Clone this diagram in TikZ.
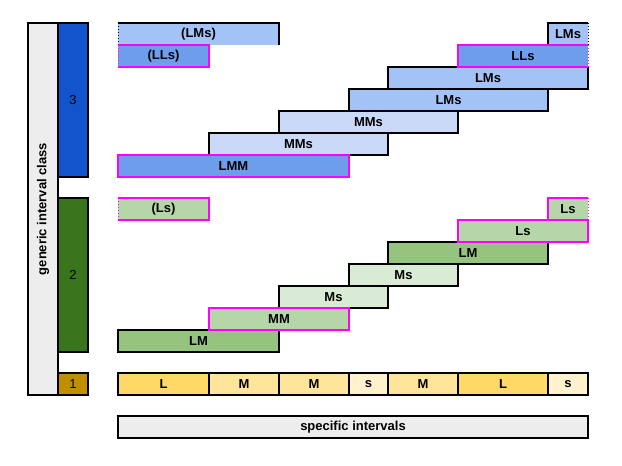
\documentclass[tikz,border=0pt]{standalone}
\usepackage{fontspec}
\setmainfont{Liberation Sans}
\usepackage{xcolor}
\usetikzlibrary{positioning}
\definecolor{axisgrey}{rgb}{0.93,0.93,0.93}
\definecolor{classblue}{rgb}{0.07,0.33,0.80}
\definecolor{classgreen}{rgb}{0.22,0.46,0.11}
\definecolor{classgold}{rgb}{0.75,0.56,0.00}
\definecolor{bluemid}{rgb}{0.64,0.76,0.96}
\definecolor{bluedeep}{rgb}{0.43,0.62,0.92}
\definecolor{bluepale}{rgb}{0.79,0.85,0.97}
\definecolor{greendeep}{rgb}{0.58,0.77,0.49}
\definecolor{greenmid}{rgb}{0.71,0.84,0.66}
\definecolor{greenpale}{rgb}{0.85,0.92,0.83}
\definecolor{yellowdeep}{rgb}{1,0.85,0.40}
\definecolor{yellowmid}{rgb}{1,0.90,0.60}
\definecolor{yellowpale}{rgb}{1,0.95,0.80}
\definecolor{wrappink}{rgb}{1,0,1}

\begin{document}
\begin{tikzpicture}[x=1pt, y=-1pt,
        ivl/.style={rectangle, draw=black, line width=2.2pt, inner sep=0pt, outer sep=0pt, anchor=north west, minimum height=22pt, font=\bfseries\fontsize{13}{15}\selectfont},
        pinkivl/.style={ivl, draw=wrappink},
        openivl/.style={ivl, draw=none},
        classbar/.style={rectangle, draw=black, line width=2.2pt, inner sep=0pt, outer sep=0pt, anchor=north west, minimum width=30pt, font=\fontsize{13}{15}\selectfont},
        edge/.style={draw=black, line width=2.2pt},
        pinkedge/.style={draw=wrappink, line width=2.2pt},
        wrapedge/.style={dotted, line width=1pt}]
    \useasboundingbox (0,0) rectangle (622,466);

    \node [rotate=90, draw=black, fill=axisgrey, line width=2.2pt, inner sep=0pt, minimum width=372pt, minimum height=30pt, font=\bfseries\fontsize{13}{15}\selectfont] (axis) at (43,209) {generic interval class};
    \node [classbar, fill=classblue, minimum height=154pt] (cls3) at (58,23) {3};
    \node [classbar, fill=classgreen, minimum height=154pt] (cls2) at (58,198) {2};
    \node [classbar, fill=classgold, minimum height=22pt] (cls1) at (58,373) {1};

    \node [openivl, fill=bluemid, minimum width=161pt] (lmsw) at (118,23) {(LMs)};
    \node [openivl, fill=bluemid, minimum width=40pt] (lmse) at (548,23) {LMs};
    \draw [edge] (lmsw.south east) -- (lmsw.north east) -- (lmsw.north west);
    \draw [wrapedge] (lmsw.north west) -- (lmsw.south west);
    \draw [edge] (lmse.south west) -- (lmse.north west) -- (lmse.north east);
    \draw [wrapedge] (lmse.north east) -- (lmse.south east);
    \node [ivl, fill=bluemid, minimum width=200pt] (lms1) at (388,67) {LMs};
    \node [ivl, fill=bluemid, minimum width=199pt] (lms2) at (349,89) {LMs};
    \node [ivl, fill=bluepale, minimum width=179pt] (mms1) at (279,111) {MMs};
    \node [ivl, fill=bluepale, minimum width=179pt] (mms2) at (209,133) {MMs};
    \node [openivl, fill=bluedeep, minimum width=91pt] (llsw) at (118,45) {(LLs)};
    \node [openivl, fill=bluedeep, minimum width=130pt] (llse) at (458,45) {LLs};
    \draw [pinkedge] (llsw.north west) -- (llsw.north east) -- (llsw.south east) -- (llsw.south west);
    \draw [wrapedge, wrappink] (llsw.north west) -- (llsw.south west);
    \draw [pinkedge] (llse.north east) -- (llse.north west) -- (llse.south west) -- (llse.south east);
    \draw [wrapedge, wrappink] (llse.north east) -- (llse.south east);
    \node [pinkivl, fill=bluedeep, minimum width=231pt] (lmm) at (118,155) {LMM};

    \node [ivl, fill=greendeep, minimum width=160pt] (lm1) at (388,242) {LM};
    \node [ivl, fill=greenpale, minimum width=109pt] (ms1) at (349,264) {Ms};
    \node [ivl, fill=greenpale, minimum width=109pt] (ms2) at (279,286) {Ms};
    \node [ivl, fill=greendeep, minimum width=161pt] (lm2) at (118,330) {LM};
    \node [openivl, fill=greenmid, minimum width=91pt] (lsw) at (118,198) {(Ls)};
    \node [openivl, fill=greenmid, minimum width=40pt] (lse) at (548,198) {Ls};
    \draw [pinkedge] (lsw.north west) -- (lsw.north east) -- (lsw.south east) -- (lsw.south west);
    \draw [wrapedge, wrappink] (lsw.north west) -- (lsw.south west);
    \draw [pinkedge] (lse.north east) -- (lse.north west) -- (lse.south west) -- (lse.south east);
    \draw [wrapedge, wrappink] (lse.north east) -- (lse.south east);
    \node [pinkivl, fill=greenmid, minimum width=130pt] (ls1) at (458,220) {Ls};
    \node [pinkivl, fill=greenmid, minimum width=140pt] (mm) at (209,308) {MM};

    \node [ivl, fill=yellowdeep, minimum width=91pt] (sp1) at (118,373) {L};
    \node [ivl, fill=yellowmid, minimum width=70pt] (sp2) at (209,373) {M};
    \node [ivl, fill=yellowmid, minimum width=70pt] (sp3) at (279,373) {M};
    \node [ivl, fill=yellowpale, minimum width=39pt] (sp4) at (349,373) {s};
    \node [ivl, fill=yellowmid, minimum width=70pt] (sp5) at (388,373) {M};
    \node [ivl, fill=yellowdeep, minimum width=90pt] (sp6) at (458,373) {L};
    \node [ivl, fill=yellowpale, minimum width=40pt] (sp7) at (548,373) {s};

    \node [ivl, fill=axisgrey, minimum width=470pt] (specific) at (118,416) {specific intervals};
\end{tikzpicture}
\end{document}
